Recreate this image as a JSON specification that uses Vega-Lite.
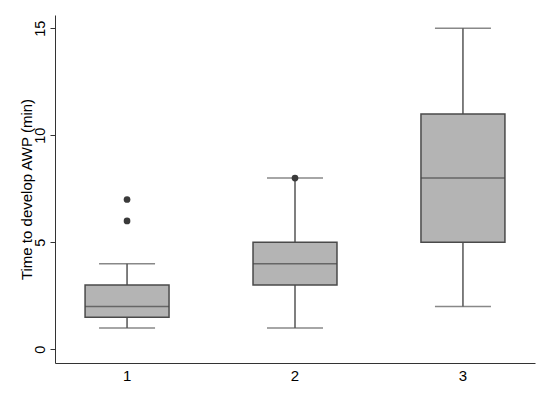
{
  "$schema": "https://vega.github.io/schema/vega-lite/v6.json",
  "autosize": {"type": "none"},
  "width": 480,
  "height": 348,
  "padding": {"left": 55, "top": 15, "right": 15, "bottom": 36},
  "background": "white",
  "config": {
    "font": "Liberation Sans",
    "view": {"stroke": null},
    "axis": {"grid": false, "domainColor": "#333333", "tickColor": "#333333", "labelColor": "#000000", "titleColor": "#000000", "labelFont": "Liberation Sans", "titleFont": "Liberation Sans", "titleFontWeight": "normal"}
  },
  "datasets": {
    "boxes": [
      {"cat": 1, "lower": 1, "q1": 1.5, "median": 2, "q3": 3, "upper": 4},
      {"cat": 2, "lower": 1, "q1": 3, "median": 4, "q3": 5, "upper": 8},
      {"cat": 3, "lower": 2, "q1": 5, "median": 8, "q3": 11, "upper": 15}
    ],
    "outliers": [
      {"cat": 1, "value": 6},
      {"cat": 1, "value": 7},
      {"cat": 2, "value": 8}
    ]
  },
  "encoding": {
    "x": {
      "field": "cat", "type": "ordinal",
      "scale": {"type": "band", "paddingInner": 0.5, "paddingOuter": 0.179},
      "axis": {"title": null, "labelAngle": 0, "ticks": false, "labelPadding": 5, "labelFontSize": 15, "domainWidth": 1}
    }
  },
  "layer": [
    {
      "data": {"name": "boxes"},
      "mark": {"type": "rule", "color": "#555555", "strokeWidth": 1.5},
      "encoding": {
        "y": {
          "field": "lower", "type": "quantitative",
          "scale": {"domain": [-0.64, 15.62], "nice": false, "zero": false},
          "axis": {
            "title": "Time to develop AWP (min)",
            "values": [0, 5, 10, 15],
            "labelAngle": -90, "labelAlign": "center", "labelBaseline": "bottom",
            "labelPadding": 3, "labelFontSize": 14.5, "tickSize": 5,
            "titleFontSize": 15, "titleAngle": -90, "titleX": -29, "titleY": 174,
            "titleAlign": "center", "titleBaseline": "middle", "domainWidth": 1
          }
        },
        "y2": {"field": "upper"}
      }
    },
    {
      "data": {"name": "boxes"},
      "mark": {"type": "tick", "color": "#555555", "size": 56, "thickness": 1.5},
      "encoding": {"y": {"field": "lower", "type": "quantitative"}}
    },
    {
      "data": {"name": "boxes"},
      "mark": {"type": "tick", "color": "#555555", "size": 56, "thickness": 1.5},
      "encoding": {"y": {"field": "upper", "type": "quantitative"}}
    },
    {
      "data": {"name": "boxes"},
      "mark": {"type": "bar", "fill": "#b4b4b4", "stroke": "#4a4a4a", "strokeWidth": 1.5},
      "encoding": {
        "y": {"field": "q1", "type": "quantitative"},
        "y2": {"field": "q3"}
      }
    },
    {
      "data": {"name": "boxes"},
      "mark": {"type": "tick", "color": "#444444", "size": 84, "thickness": 1.5},
      "encoding": {"y": {"field": "median", "type": "quantitative"}}
    },
    {
      "data": {"name": "outliers"},
      "mark": {"type": "point", "filled": true, "color": "#3a3a3a", "size": 45, "opacity": 1},
      "encoding": {"y": {"field": "value", "type": "quantitative"}}
    }
  ]
}
